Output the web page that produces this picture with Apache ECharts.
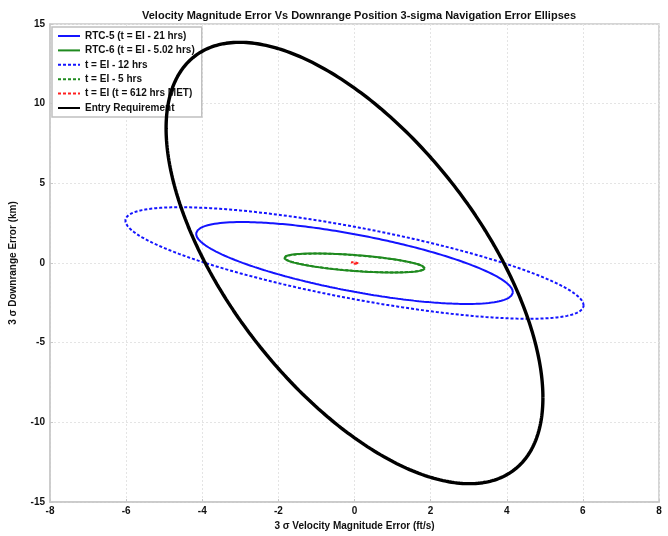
<!DOCTYPE html>
<html>
<head>
<meta charset="utf-8">
<script src="https://cdn.jsdelivr.net/npm/echarts@6/dist/echarts.min.js"></script>
<style>html,body{margin:0;padding:0;background:#fff}#c{width:668px;height:536px}</style>
</head>
<body>
<div id="c"></div>
<script>
// Ellipse data (3-sigma extents and correlation)
var seriesNames = ['RTC-5 (t = EI - 21 hrs)', 'RTC-6 (t = EI - 5.02 hrs)', 't = EI - 12 hrs', 't = EI - 5 hrs', 't = EI (t = 612 hrs MET)', 'Entry Requirement'];
var sigmaVel3 = [4.16, 1.85, 6.02, 1.84, 0.10, 4.95];   // ft/s, max x extent
var sigmaPos3 = [2.57, 0.60, 3.50, 0.59, 0.05, 13.85];  // km, max y extent
var corr      = [-0.71, -0.55, -0.76, -0.55, -0.5, -0.61];
var centerX   = [0, 0, 0, 0, 0, 0];
var centerY   = [0, 0, 0, 0, 0, 0];
var xTicks = [-8, 8, 2];
var yTicks = [-15, 15, 5];

var colors = ['#1414ff', '#1f8a1f', '#1414ff', '#1f8a1f', '#ff2020', '#000000'];
var widths = [2, 2, 2, 2, 2, 3.4];
var types  = ['solid', 'solid', [3, 2], [3, 2], [3, 2], 'solid'];

function ellipse(i) {
  var pts = [];
  var A = sigmaVel3[i], B = sigmaPos3[i], d = Math.acos(corr[i]);
  for (var k = 0; k <= 360; k++) {
    var t = k * Math.PI / 180;
    pts.push([centerX[i] + A * Math.cos(t), centerY[i] + B * Math.cos(t - d)]);
  }
  return pts;
}

var series = seriesNames.map(function (n, i) {
  return {
    name: n, type: 'line', data: ellipse(i), showSymbol: false, symbol: 'none',
    smooth: false, animation: false, z: 2 + i,
    lineStyle: { color: colors[i], width: widths[i], type: types[i] },
    itemStyle: { color: colors[i] }
  };
});

var font = 'Liberation Sans, Arial, Helvetica, sans-serif';
var chart = echarts.init(document.getElementById('c'), null, { renderer: 'canvas' });
chart.setOption({
  backgroundColor: '#fff',
  animation: false,
  title: {
    text: 'Velocity Magnitude Error Vs Downrange Position 3-sigma Navigation Error Ellipses',
    left: 354, top: 5, textAlign: 'center',
    textStyle: { fontFamily: font, fontSize: 11, fontWeight: 'bold', color: '#111' }
  },
  grid: { left: 50, right: 9, top: 24, bottom: 33, show: true, borderColor: '#c8c8c8', borderWidth: 1.5 },
  legend: {
    orient: 'vertical', left: 52, top: 27, data: seriesNames,
    backgroundColor: '#fff', borderColor: '#c0c0c0', borderWidth: 1.5, borderRadius: 0,
    padding: [4, 7, 4, 5], itemWidth: 22, itemHeight: 10, itemGap: 4.4,
    itemStyle: { opacity: 0, borderWidth: 0 },
    textStyle: { fontFamily: font, fontSize: 10, fontWeight: 'bold', color: '#111' }
  },
  xAxis: {
    type: 'value', min: xTicks[0], max: xTicks[1], interval: xTicks[2],
    name: '3 σ Velocity Magnitude Error (ft/s)', nameLocation: 'middle', nameGap: 19,
    nameTextStyle: { fontFamily: font, fontSize: 10, fontWeight: 'bold', color: '#111' },
    axisLine: { show: true, onZero: false, lineStyle: { color: '#c8c8c8', width: 1.5 } },
    axisTick: { show: true, inside: true, length: 3, lineStyle: { color: '#c8c8c8' } },
    axisLabel: { fontFamily: font, fontSize: 10, fontWeight: 'bold', color: '#111', margin: 4 },
    splitLine: { show: true, lineStyle: { color: '#e4e4e4', type: [2, 2], width: 1 } }
  },
  yAxis: {
    type: 'value', min: yTicks[0], max: yTicks[1], interval: yTicks[2],
    name: '3 σ Downrange Error (km)', nameLocation: 'middle', nameGap: 32, nameRotate: 90,
    nameTextStyle: { fontFamily: font, fontSize: 10, fontWeight: 'bold', color: '#111' },
    axisLine: { show: true, onZero: false, lineStyle: { color: '#c8c8c8', width: 1.5 } },
    axisTick: { show: true, inside: true, length: 3, lineStyle: { color: '#c8c8c8' } },
    axisLabel: { fontFamily: font, fontSize: 10, fontWeight: 'bold', color: '#111', margin: 5 },
    splitLine: { show: true, lineStyle: { color: '#e4e4e4', type: [2, 2], width: 1 } }
  },
  series: series
});
</script>
</body>
</html>
